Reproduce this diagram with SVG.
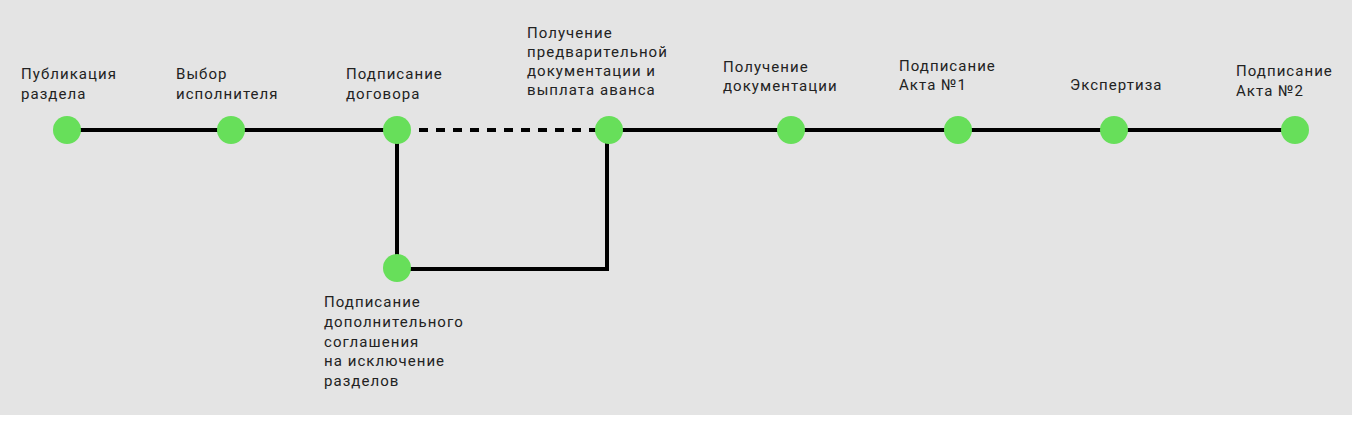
<svg xmlns="http://www.w3.org/2000/svg" width="1356" height="422" viewBox="0 0 1356 422">
<style>
.node{fill:#67df5a}
.line{stroke:#000;stroke-width:4;fill:none}
.dash{stroke-dasharray:9 8}
text{font-family:Roboto,"Liberation Sans",sans-serif;font-size:15px;letter-spacing:1.05px;fill:#222}
</style>
<rect x="0" y="0" width="1352" height="415" fill="#e4e4e4"/>
<g id="connectors">
<line class="line" x1="67" y1="130" x2="397" y2="130"/>
<line class="line dash" x1="419" y1="130" x2="597" y2="130"/>
<line class="line" x1="609" y1="130" x2="1295" y2="130"/>
<polyline class="line" points="397,130 397,269 607,269 607,130"/>
</g>
<g id="n1"><circle class="node" cx="67" cy="130" r="14"/><text x="21" y="79">Публикация</text><text x="21" y="99">раздела</text></g>
<g id="n2"><circle class="node" cx="231" cy="130" r="14"/><text x="176" y="79">Выбор</text><text x="176" y="99">исполнителя</text></g>
<g id="n3"><circle class="node" cx="397" cy="130" r="14"/><text x="346" y="79">Подписание</text><text x="346" y="99">договора</text></g>
<g id="n4"><circle class="node" cx="609" cy="130" r="14"/><text x="527" y="38">Получение</text><text x="527" y="57">предварительной</text><text x="527" y="76">документации и</text><text x="527" y="95">выплата аванса</text></g>
<g id="n5"><circle class="node" cx="791" cy="130" r="14"/><text x="723" y="72">Получение</text><text x="723" y="91">документации</text></g>
<g id="n6"><circle class="node" cx="958" cy="130" r="14"/><text x="899" y="71">Подписание</text><text x="899" y="90">Акта №1</text></g>
<g id="n7"><circle class="node" cx="1114" cy="130" r="14"/><text x="1070" y="90">Экспертиза</text></g>
<g id="n8"><circle class="node" cx="1295" cy="130" r="14"/><text x="1236" y="76">Подписание</text><text x="1236" y="96">Акта №2</text></g>
<g id="n9"><circle class="node" cx="397" cy="268" r="14"/><text x="324" y="307">Подписание</text><text x="324" y="327">дополнительного</text><text x="324" y="347">соглашения</text><text x="324" y="366">на исключение</text><text x="324" y="386">разделов</text></g>
</svg>
